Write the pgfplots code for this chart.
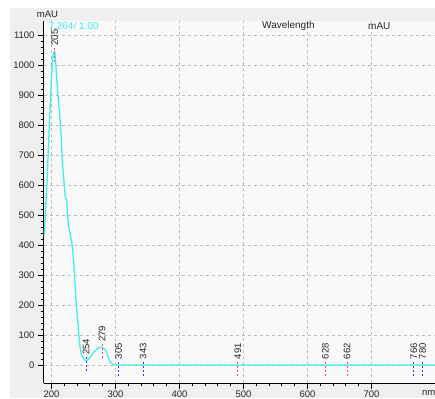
\documentclass[border=0pt]{standalone}
\usepackage{pgfplots}
\pgfplotsset{compat=1.18}
\usepackage{fontspec}
\setmainfont{Liberation Sans}

\definecolor{panel}{HTML}{EFEFEF}
\definecolor{plotbg}{HTML}{F9F9F9}
\definecolor{trace}{RGB}{64,238,238}
\definecolor{maxred}{RGB}{255,80,80}
\definecolor{minblue}{RGB}{50,50,255}
\definecolor{gridgray}{HTML}{BDBDBD}

\newcommand{\lblfont}{\fontsize{9.5}{10}\selectfont}
\tikzset{
  marker line/.style={#1, dash pattern=on 2pt off 2pt, line width=1pt},
  marker text/.style={pos=1, rotate=90, anchor=west, inner sep=1pt, font=\lblfont, text=black!85},
}

\begin{document}
\begin{tikzpicture}[x=1pt,y=1pt]
\useasboundingbox (0,0) rectangle (435,398);
\clip (0,0) rectangle (435,398);
\fill[panel] (10,0) rectangle (435,390);
\begin{axis}[
  at={(43.5pt,14.7pt)}, anchor=south west,
  scale only axis, width=391.5pt, height=362.6pt,
  xmin=187.5, xmax=799.2, ymin=-61, ymax=1147.7,
  axis background/.style={fill=plotbg},
  axis x line*=bottom, axis y line*=left,
  axis line style={black, line width=1.2pt},
  xtick={200,300,...,700}, ytick={0,100,...,1100},
  minor x tick num=4, minor y tick num=4,
  tick align=outside,
  major tick length=5.5pt, minor tick length=3pt,
  every tick/.style={black, line width=0.9pt},
  grid=major,
  major grid style={gridgray, dash pattern=on 3pt off 3pt, line width=0.7pt},
  tick label style={font=\lblfont, text=black!85},
  xticklabel style={yshift=1.5pt},
  /pgf/number format/assume math mode=true,
  /pgf/number format/1000 sep={},
  scaled ticks=false,
  clip mode=individual,
]
% absorbance trace
\addplot[trace, line width=1.3pt, smooth, tension=0.3] coordinates {
 (188,428) (189.4,461) (190.3,494) (191.4,550) (193,610) (195,717)
 (197.7,850) (199.2,928) (201.3,1005) (202.8,1033) (205,1045)
 (207,994) (210,900) (212.2,850) (214.8,773) (216.9,683) (218.4,639)
 (221.6,561) (223.7,550) (225.3,494) (226.3,467) (229,439) (231.5,411)
 (233,383) (235.2,328) (236.7,272) (238.3,217) (240.4,161) (242.5,106)
 (244.5,61) (247.2,33) (250.8,19) (254,14) (259,22) (265.3,41)
 (272.2,55) (278.4,59) (283.6,52) (287.2,33) (291.4,11) (296.6,2)
 (302,0) (320,0) (400,0) (500,0) (600,0) (700,0) (799,0)
};
% maxima (red) and minima (blue) markers
\addplot[marker line=maxred]  coordinates {(205,1010) (205,1060)} node[marker text] {205};
\addplot[marker line=minblue] coordinates {(254,-21) (254,29)}    node[marker text] {254};
\addplot[marker line=maxred]  coordinates {(279,22) (279,72)}     node[marker text] {279};
\addplot[marker line=minblue] coordinates {(305,-35) (305,15)}    node[marker text] {305};
\addplot[marker line=minblue] coordinates {(343,-35) (343,15)}    node[marker text] {343};
\addplot[marker line=maxred]  coordinates {(491,-35) (491,15)}    node[marker text] {491};
\addplot[marker line=maxred]  coordinates {(628,-35) (628,15)}    node[marker text] {628};
\addplot[marker line=maxred]  coordinates {(662,-35) (662,15)}    node[marker text] {662};
\addplot[marker line=minblue] coordinates {(766,-35) (766,15)}    node[marker text] {766};
\addplot[marker line=minblue] coordinates {(780,-35) (780,15)}    node[marker text] {780};
\end{axis}
% header texts
\node[anchor=center, font=\lblfont, text=black!85] at (47.5,384) {mAU};
\node[anchor=west, inner sep=0pt, font=\fontsize{10}{11}\selectfont, text=trace] at (48.3,372) {7.264/ 1.00};
\node[anchor=west, inner sep=0pt, font=\fontsize{10}{11}\selectfont, text=black!85] at (262,372) {Wavelength};
\node[anchor=west, inner sep=0pt, font=\fontsize{10}{11}\selectfont, text=black!85] at (368,372) {mAU};
\node[anchor=west, inner sep=0pt, font=\lblfont, text=black!85] at (422,5) {nm};
\end{tikzpicture}
\end{document}
